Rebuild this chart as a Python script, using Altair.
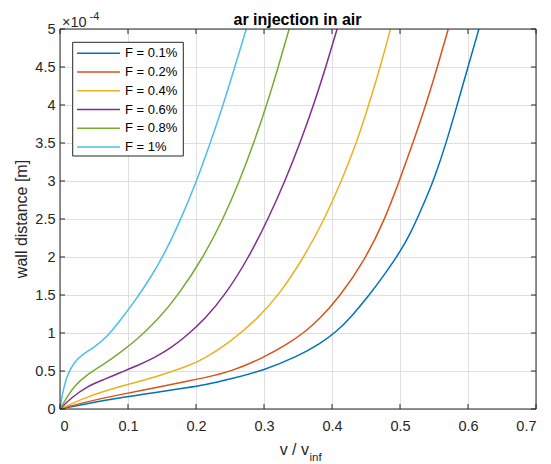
import altair as alt
import pandas as pd

FONT = "Liberation Sans"

series_names = ["F = 0.1%", "F = 0.2%", "F = 0.4%", "F = 0.6%", "F = 0.8%", "F = 1%"]
series_colors = ["#0072BD", "#D95319", "#EDB120", "#7E2F8E", "#77AC30", "#4DBEEE"]

# v / v_inf values and wall distance (in units of 1e-4 m)
x_f01 = [0, 0.040, 0.089, 0.138, 0.187, 0.212, 0.251, 0.300, 0.349, 0.383, 0.408, 0.427, 0.455, 0.478, 0.499, 0.516, 0.530, 0.542, 0.551, 0.568, 0.584, 0.600, 0.616]
y_f01 = [0, 0.07, 0.15, 0.215, 0.28, 0.315, 0.395, 0.51, 0.69, 0.86, 1.03, 1.2, 1.5, 1.78, 2.05, 2.32, 2.6, 2.85, 3.05, 3.5, 4.0, 4.5, 5.0]

x_f02 = [0, 0.040, 0.089, 0.138, 0.187, 0.212, 0.251, 0.300, 0.334, 0.361, 0.380, 0.410, 0.449, 0.477, 0.499, 0.519, 0.538, 0.555, 0.571]
y_f02 = [0, 0.098, 0.19, 0.277, 0.366, 0.41, 0.49, 0.68, 0.85, 1.02, 1.17, 1.46, 1.97, 2.48, 3.0, 3.5, 4.0, 4.5, 5.0]

x_f04 = [0, 0.040, 0.089, 0.138, 0.187, 0.212, 0.250, 0.290, 0.322, 0.359, 0.389, 0.414, 0.436, 0.454, 0.471, 0.486]
y_f04 = [0, 0.165, 0.30, 0.41, 0.56, 0.66, 0.88, 1.184, 1.5, 2.0, 2.5, 3.0, 3.5, 4.0, 4.5, 5.0]

x_f06 = [0, 0.0157, 0.040, 0.065, 0.089, 0.114, 0.138, 0.163, 0.187, 0.213, 0.243, 0.278, 0.306, 0.331, 0.353, 0.373, 0.391, 0.4075]
y_f06 = [0, 0.143, 0.30, 0.39, 0.48, 0.57, 0.67, 0.80, 0.97, 1.184, 1.5, 2.0, 2.5, 3.0, 3.5, 4.0, 4.5, 5.0]

x_f08 = [0, 0.011, 0.0206, 0.040, 0.065, 0.089, 0.114, 0.145, 0.174, 0.211, 0.240, 0.264, 0.285, 0.304, 0.321, 0.337]
y_f08 = [0, 0.165, 0.30, 0.455, 0.59, 0.745, 0.92, 1.184, 1.5, 2.0, 2.5, 3.0, 3.5, 4.0, 4.5, 5.0]

x_f10 = [0, 0.002, 0.006, 0.011, 0.0206, 0.030, 0.050, 0.0696, 0.089, 0.111, 0.134, 0.153, 0.178, 0.201, 0.221, 0.240, 0.257, 0.274]
y_f10 = [0, 0.12, 0.30, 0.455, 0.61, 0.70, 0.81, 0.95, 1.17, 1.43, 1.74, 2.03, 2.5, 3.0, 3.5, 4.0, 4.5, 5.0]

x_ticks = [0, 0.1, 0.2, 0.3, 0.4, 0.5, 0.6, 0.7]
y_ticks_e4 = [0, 0.5, 1, 1.5, 2, 2.5, 3, 3.5, 4, 4.5, 5]

title_text = "ar injection in air"
ylabel_text = "wall distance [m]"
xlabel_main = "v / v"
xlabel_sub = "inf"
exp_base = "\u00d710"
exp_power = "-4"

xs_all = [x_f01, x_f02, x_f04, x_f06, x_f08, x_f10]
ys_all = [y_f01, y_f02, y_f04, y_f06, y_f08, y_f10]
rows = []
for name, xs, ys in zip(series_names, xs_all, ys_all):
    for i, (xv, yv) in enumerate(zip(xs, ys)):
        rows.append({"F": name, "v": xv, "d": yv * 1e-4, "i": i})
df = pd.DataFrame(rows)

W, H = 476, 380
AX = "#262626"

xscale = alt.Scale(domain=[0, 0.7], nice=False, zero=False)
yscale = alt.Scale(domain=[0, 5e-4], nice=False, zero=False)
color = alt.Color("F:N", scale=alt.Scale(domain=series_names, range=series_colors), legend=None)

xaxis = alt.Axis(values=x_ticks, title=None, labelPadding=10, format="~g")
xenc = alt.X("v:Q", scale=xscale, axis=xaxis)

lines = alt.Chart(df).mark_line(strokeWidth=1.5, interpolate="basis").encode(
    x=xenc,
    y=alt.Y("d:Q", scale=yscale, axis=alt.Axis(values=[t * 1e-4 for t in y_ticks_e4], title=None,
                                               labelPadding=5,
                                               labelExpr="format(datum.value*10000, '~g')")),
    color=color,
    order="i:Q",
)

xt = pd.DataFrame({"v": x_ticks})
yt = pd.DataFrame({"d": [t * 1e-4 for t in y_ticks_e4]})
ynoaxis = alt.Y("d:Q", scale=yscale, axis=None)
tick_style = dict(color=AX, strokeWidth=1)
tick_bottom = alt.Chart(xt).mark_rule(**tick_style).encode(x=xenc, y=alt.value(H - 5), y2=alt.value(H))
tick_top = alt.Chart(xt).mark_rule(**tick_style).encode(x=xenc, y=alt.value(0), y2=alt.value(5))
tick_left = alt.Chart(yt).mark_rule(**tick_style).encode(y=ynoaxis, x=alt.value(0), x2=alt.value(5))
tick_right = alt.Chart(yt).mark_rule(**tick_style).encode(y=ynoaxis, x=alt.value(W - 5), x2=alt.value(W))

one = pd.DataFrame({"k": [0]})
frame = alt.Chart(one).mark_rect(fill="white", fillOpacity=0, stroke=AX, strokeWidth=1).encode(
    x=alt.value(0), x2=alt.value(W), y=alt.value(0), y2=alt.value(H))

leg_df = pd.DataFrame({"F": series_names})
leg_y = alt.Y("F:N", scale=alt.Scale(type="point", domain=series_names, range=[24.3, 118], padding=0), axis=None)
leg_box = alt.Chart(one).mark_rect(fill="white", stroke=AX, strokeWidth=1).encode(
    x=alt.value(12.7), x2=alt.value(123.3), y=alt.value(13.3), y2=alt.value(127))
leg_lines = alt.Chart(leg_df).mark_rule(strokeWidth=1.6).encode(
    y=leg_y, x=alt.value(17), x2=alt.value(60), color=color)
leg_text = alt.Chart(leg_df).mark_text(align="left", baseline="middle", fontSize=13, font=FONT,
                                       color="#000000").encode(y=leg_y, x=alt.value(65), text="F:N")

def label(txt, x, y, size, **kw):
    d = pd.DataFrame({"t": [txt]})
    return alt.Chart(d).mark_text(fontSize=size, font=FONT, baseline="alphabetic", **kw).encode(
        x=alt.value(x), y=alt.value(y), text="t:N")

title = label(title_text, 237.5, -4, 16, align="center", fontWeight="bold", color="#000000")
ylab = label(ylabel_text, -33, H / 2, 16, align="center", angle=270, color=AX)
xlab1 = label(xlabel_main, 249, 426, 16, align="right", color=AX)
xlab2 = label(xlabel_sub, 249.5, 432, 11.5, align="left", color=AX)
exp1 = label(exp_base, 2, -2, 14.5, align="left", color=AX)
exp2 = label(exp_power, 29.5, -9.5, 11, align="left", color=AX)

chart = alt.layer(
    lines, tick_bottom, tick_top, tick_left, tick_right, frame,
    leg_box, leg_lines, leg_text, title, ylab, xlab1, xlab2, exp1, exp2,
).resolve_scale(y="independent").properties(
    width=W, height=H,
    padding={"left": 60, "top": 29, "right": 15, "bottom": 55},
    autosize=alt.AutoSizeParams(type="none"),
).configure_view(stroke=None).configure_axis(
    grid=True, gridColor="#dfdfdf", gridWidth=1, domain=False, ticks=False,
    labelFont=FONT, labelFontSize=14.5, labelColor=AX,
)

chart.save("out.html", embed_options={"renderer": "svg", "actions": False})
